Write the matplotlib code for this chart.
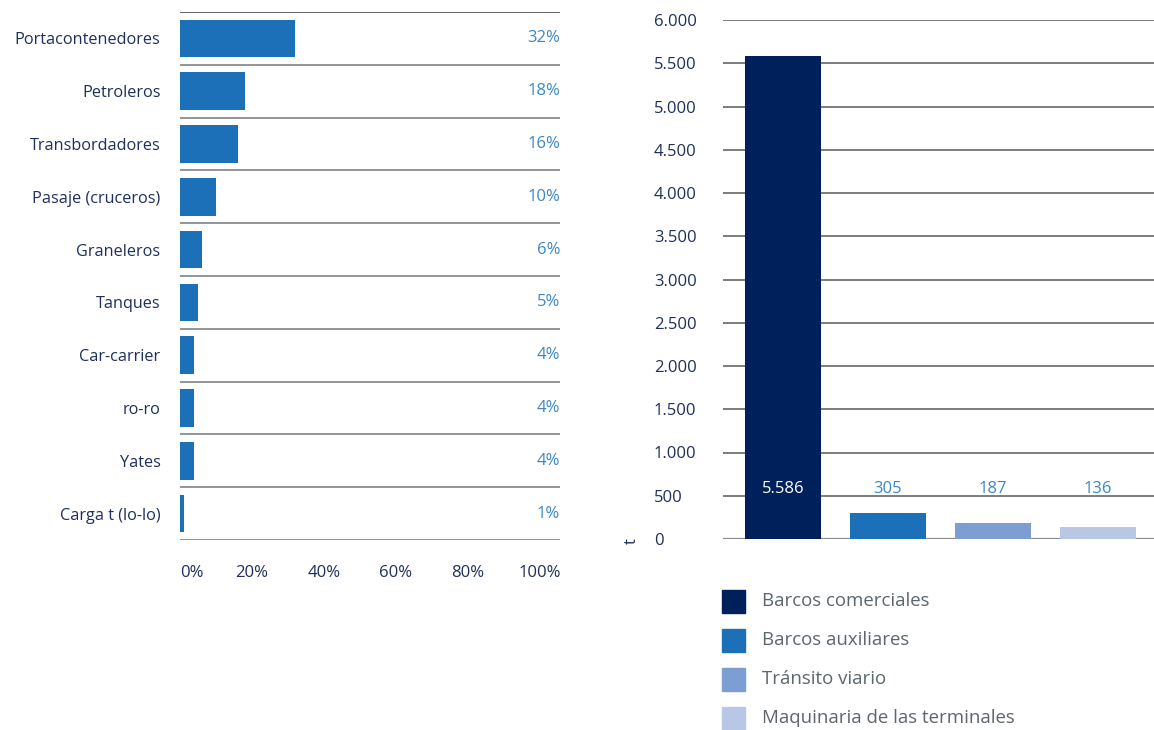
import matplotlib
matplotlib.use("Agg")
import matplotlib.pyplot as plt
from matplotlib.patches import Rectangle

FONT = 'Open Sans'
FS = 12
plt.rcParams['font.family'] = [FONT, 'DejaVu Sans']

categories = ["Portacontenedores", "Petroleros", "Transbordadores", "Pasaje (cruceros)",
              "Graneleros", "Tanques", "Car-carrier", "ro-ro", "Yates", "Carga t (lo-lo)"]
shares = [32, 18, 16, 10, 6, 5, 4, 4, 4, 1]
share_labels = ["32%", "18%", "16%", "10%", "6%", "5%", "4%", "4%", "4%", "1%"]
x_ticks = [0, 20, 40, 60, 80, 100]
x_tick_labels = ["0%", "20%", "40%", "60%", "80%", "100%"]

sources = ["Barcos comerciales", "Barcos auxiliares", "Tránsito viario", "Maquinaria de las terminales"]
tonnes = [5586, 305, 187, 136]
tonne_labels = ["5.586", "305", "187", "136"]
y_ticks = list(range(0, 6001, 500))
y_tick_labels = ["0", "500", "1.000", "1.500", "2.000", "2.500", "3.000", "3.500",
                 "4.000", "4.500", "5.000", "5.500", "6.000"]

NAVY = "#1e2f5c"
BAR = "#1b70b8"
LBL = "#3a87c8"
GRID = "#8a8d90"
src_colors = ["#00205b", "#1b70b8", "#7d9ed2", "#b8c7e5"]

fig = plt.figure(figsize=(11.54, 7.30), dpi=100)

# ---- Left chart ----
ax1 = fig.add_axes([180/1154, 1-540/730, 380/1154, 528/730])
n = len(categories)
ax1.barh(range(n), shares, height=0.71, color=BAR)
ax1.set_ylim(n-0.5, -0.5)
ax1.set_xlim(0, 380/3.6)
for i in range(n+1):
    ax1.axhline(i-0.5, color="#555a5e" if i == 0 else GRID, lw=1.3)
for i, lab in enumerate(share_labels):
    ax1.text(1.0, i, lab, transform=ax1.get_yaxis_transform(), ha='right', va='center',
             color=LBL, fontsize=FS)
ax1.set_yticks(range(n))
ax1.set_yticklabels(categories, color=NAVY, fontsize=11.7)
ax1.set_xticks(x_ticks)
ax1.set_xticklabels(x_tick_labels, color=NAVY, fontsize=FS)
ax1.get_xticklabels()[0].set_ha('left')
ax1.tick_params(axis='y', length=0, pad=14)
ax1.tick_params(axis='x', length=0, pad=18)
for s in ax1.spines.values():
    s.set_visible(False)

# ---- Right chart ----
ax2 = fig.add_axes([723/1154, 1-539/730, 431/1154, 519/730])
xs = range(len(sources))
ax2.set_xlim(-0.571, 3.533)
ax2.set_ylim(0, 6000)
for yt in y_ticks:
    ax2.axhline(yt, color="#555a5e" if yt > 0 else GRID, lw=1.1 if yt > 0 else 1.6, zorder=1)
ax2.bar(xs, tonnes, width=0.724, color=src_colors, zorder=2)
for i, (v, lab) in enumerate(zip(tonnes, tonne_labels)):
    ax2.text(i, 578, lab, ha='center', va='center', fontsize=FS,
             color="white" if i == 0 else LBL, zorder=3)
ax2.set_yticks(y_ticks)
ax2.set_yticklabels(y_tick_labels, color=NAVY, fontsize=FS)
for t in ax2.get_yticklabels():
    t.set_ha('left')
ax2.tick_params(axis='y', length=0, pad=(723-654)*0.72)
ax2.set_xticks([])
for s in ax2.spines.values():
    s.set_visible(False)
fig.text(632/1154, 1-541/730, "t", rotation=90, ha='center', va='center', color=NAVY, fontsize=FS)

# ---- Legend ----
for i, (name, c) in enumerate(zip(sources, src_colors)):
    yc = 601 + i*39
    fig.patches.append(Rectangle((722/1154, 1-(yc+11.5)/730), 23/1154, 23/730,
                                 transform=fig.transFigure, color=c))
    fig.text(762/1154, 1-yc/730, name, ha='left', va='center', color="#5b666d", fontsize=13.4)

fig.savefig("out.png", dpi=100)
